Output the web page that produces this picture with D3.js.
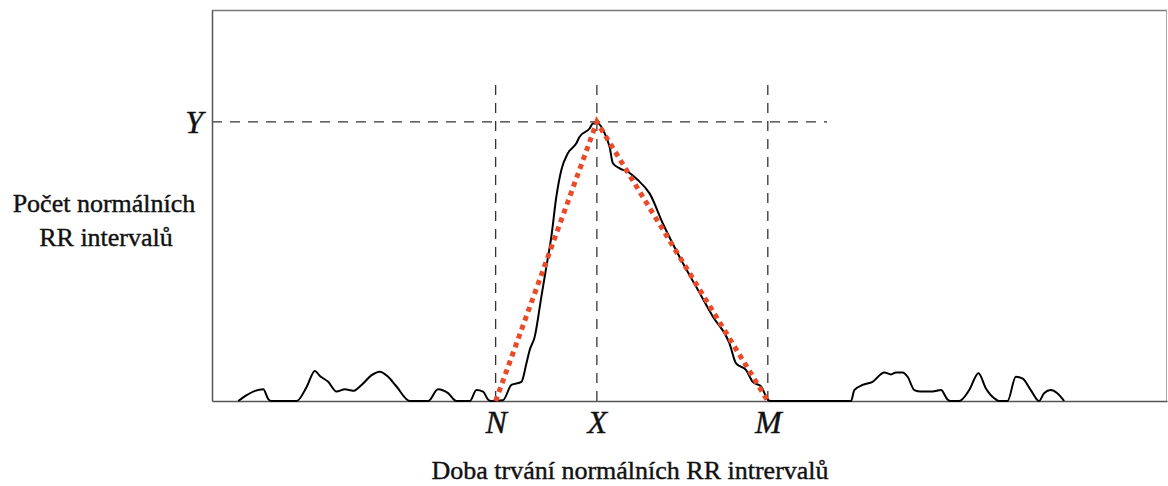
<!DOCTYPE html>
<html>
<head>
<meta charset="utf-8">
<script src="https://cdn.jsdelivr.net/npm/d3@7"></script>
<style>
  body { margin: 0; background: #fff; }
  svg { display: block; }
</style>
</head>
<body>
<svg class="hist"></svg>
<script>
// histogram of RR intervals (arbitrary units 0-100)
const durations = [2.75, 3.63, 4.5, 5.37, 5.89, 6.2, 8.86, 9.91, 10.77, 11.3, 12.17, 13.04, 13.91, 14.78,
  15.66, 16.71, 17.57, 18.44, 19.32, 20.71, 22.63, 23.67, 24.72, 25.6, 26.99, 27.69, 28.38, 28.9, 29.2,
  30.47, 31.35, 32.4, 32.92, 33.26, 33.79, 34.49, 35.01, 35.53, 36.06, 36.58, 37.27, 38.15, 38.49, 39.54,
  39.89, 40.41, 41.11, 41.63, 41.98, 42.68, 43.55, 44.59, 45.82, 47.21, 48.95, 50.7, 52.44, 54.18, 54.88,
  55.93, 56.62, 57.5, 58.19, 58.5, 66.91, 67.26, 68.13, 69.17, 70.4, 71.1, 71.62, 72.31, 72.84, 73.54,
  74.24, 75.45, 76.33, 77.02, 77.3, 78.24, 79.29, 80.26, 81.04, 82.08, 82.4, 83.3, 84.17, 84.86, 85.74,
  86.61, 87.13, 87.83, 88.52, 89.23];
const counts = [0, 1.5, 2.6, 3.0, 0.5, 0, 0, 3.6, 7.7, 6.4, 4.9, 2.4, 3.0, 2.6,
  4.1, 6.6, 7.5, 6.2, 3.7, 0, 0, 3.0, 2.0, 0, 0, 2.8, 2.4, 0.4, 0,
  0.2, 4.1, 4.9, 9.6, 13.0, 16.4, 26.7, 34.3, 42.0, 52.3, 59.1, 63.4, 65.9, 67.6, 69.7,
  71.0, 71.0, 68.5, 65.0, 60.8, 59.5, 58.6, 56.5, 53.1, 45.4, 36.9, 29.2, 21.6, 14.8, 9.6,
  7.9, 4.9, 3.7, 0.4, 0, 0, 2.8, 4.1, 4.9, 7.3, 6.8, 7.3, 7.3, 6.2, 2.8,
  2.4, 2.4, 2.8, 0.4, 0, 0, 2.8, 7.1, 3.2, 0.4, 0, 0, 6.2, 5.8, 2.8,
  0, 2.0, 2.8, 2.0, 0];

// triangular interpolation points
const markerNames = ["N", "X", "M"];
const markerValues = [29.7, 40.3, 58.2];
const peakName = "Y";
const peakCount = 71.4;
const guideTop = 80.8;      // where the dashed verticals start
const guideRight = 64.4;    // where the dashed Y line stops

const yTitle = ["Počet normálních", "RR intervalů"];
const xTitle = "Doba trvání normálních RR intrervalů";

var serif = "'Liberation Serif', 'Times New Roman', serif";

var svgWidth = 1168, svgHeight = 486;
var margin = { top: 10, right: 1, bottom: 85, left: 212 };
var width = svgWidth - margin.left - margin.right;
var height = svgHeight - margin.top - margin.bottom;

var svg = d3.select("svg.hist")
    .attr("width", svgWidth)
    .attr("height", svgHeight);

var g = svg.append("g")
    .attr("transform", "translate(" + margin.left + "," + margin.top + ")");

var x = d3.scaleLinear().domain([0, 100]).range([0, width]);
var y = d3.scaleLinear().domain([0, 100]).range([height, 0]);

// box: top and right edges
g.append("line")
    .attr("x1", 0).attr("x2", width).attr("y1", 0.5).attr("y2", 0.5)
    .attr("stroke", "#777").attr("stroke-width", 1.5);
g.append("line")
    .attr("x1", width - 0.5).attr("x2", width - 0.5).attr("y1", 0).attr("y2", height)
    .attr("stroke", "#aaa").attr("stroke-width", 1);

// dashed guides
var dash = "10,8";
g.selectAll(".guide-v")
  .data(markerValues)
  .enter().append("line")
    .attr("class", "guide-v")
    .attr("x1", d => x(d)).attr("x2", d => x(d))
    .attr("y1", y(guideTop)).attr("y2", y(0))
    .attr("stroke", "#333").attr("stroke-width", 1.3)
    .attr("stroke-dasharray", dash);

g.append("line")
    .attr("x1", x(0)).attr("x2", x(guideRight))
    .attr("y1", y(peakCount)).attr("y2", y(peakCount))
    .attr("stroke", "#333").attr("stroke-width", 1.3)
    .attr("stroke-dasharray", dash);

// axes
var xAxis = g.append("g")
    .attr("transform", "translate(0," + height + ")")
    .call(d3.axisBottom(x)
      .tickValues(markerValues)
      .tickFormat((d, i) => markerNames[i])
      .tickSize(0)
      .tickPadding(9))
    .attr("font-family", serif)
    .attr("font-size", 32);
xAxis.select(".domain").attr("stroke", "#555").attr("stroke-width", 1.5);
xAxis.selectAll("text")
    .attr("font-style", "italic")
    .attr("fill", "#111")
    .attr("stroke", "#111").attr("stroke-width", 0.4);

var yAxis = g.append("g")
    .call(d3.axisLeft(y)
      .tickValues([peakCount])
      .tickFormat(() => peakName)
      .tickSize(0)
      .tickPadding(9))
    .attr("font-family", serif)
    .attr("font-size", 32);
yAxis.select(".domain").attr("stroke", "#555").attr("stroke-width", 1.5);
yAxis.selectAll("text")
    .attr("font-style", "italic")
    .attr("fill", "#111")
    .attr("stroke", "#111").attr("stroke-width", 0.4);

// histogram curve
var data = durations.map((d, i) => ({ t: d, n: counts[i] }));
var line = d3.line()
    .x(d => x(d.t))
    .y(d => y(d.n))
    .curve(d3.curveMonotoneX);

g.append("path")
    .datum(data)
    .attr("fill", "none")
    .attr("stroke", "#000")
    .attr("stroke-width", 2)
    .attr("stroke-linejoin", "round")
    .attr("d", line);

// triangle N - X/Y - M
var tri = [
  { t: markerValues[0], n: 0 },
  { t: markerValues[1], n: peakCount },
  { t: markerValues[2], n: 0 }
];
g.append("path")
    .datum(tri)
    .attr("fill", "none")
    .attr("stroke", "#ea4a28")
    .attr("stroke-width", 5)
    .attr("stroke-dasharray", "5,4.5")
    .attr("d", d3.line().x(d => x(d.t)).y(d => y(d.n)));

// titles
svg.append("text")
    .attr("x", 104).attr("y", 212)
    .attr("text-anchor", "middle")
    .attr("font-family", serif)
    .attr("font-size", 26)
    .attr("fill", "#111")
    .attr("stroke", "#111").attr("stroke-width", 0.4)
    .selectAll("tspan")
    .data(yTitle)
    .enter().append("tspan")
      .attr("x", (d, i) => 104 + i * 2)
      .attr("dy", (d, i) => i ? 34 : 0)
      .text(d => d);

svg.append("text")
    .attr("x", 630).attr("y", 479)
    .attr("text-anchor", "middle")
    .attr("font-family", serif)
    .attr("font-size", 26)
    .attr("fill", "#111")
    .attr("stroke", "#111").attr("stroke-width", 0.4)
    .text(xTitle);
</script>
</body>
</html>
